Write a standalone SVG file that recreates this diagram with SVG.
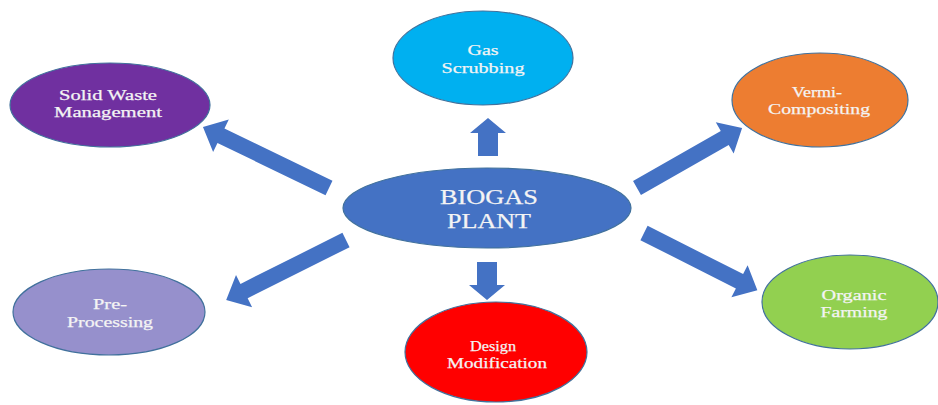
<svg xmlns="http://www.w3.org/2000/svg" width="938" height="405" viewBox="0 0 938 405">
<style>
.node ellipse{stroke:#41719C;stroke-width:1.2}
.node text{font-family:"Liberation Serif","Times New Roman",serif;font-size:15px;fill:#F4F4F4;text-anchor:middle;stroke:#F4F4F4;stroke-width:0.25}
.big text{font-size:20px}
.arrow{fill:#4472C4}
</style>
<rect width="938" height="405" fill="#FFFFFF"/>
<g id="connectors">
<polygon class="arrow" transform="translate(329,188) rotate(205.8)" points="0,-8 120,-8 120,-18 140,0 120,18 120,8 0,8"/>
<polygon class="arrow" transform="translate(637,188) rotate(-29.7)" points="0,-8 101,-8 101,-18 121,0 101,18 101,8 0,8"/>
<polygon class="arrow" transform="translate(346,240) rotate(153.4)" points="0,-8 114,-8 114,-18 134,0 114,18 114,8 0,8"/>
<polygon class="arrow" transform="translate(644,233) rotate(26.8)" points="0,-8 107,-8 107,-18 127,0 107,18 107,8 0,8"/>
<polygon class="arrow" transform="translate(488,156) rotate(-90)" points="0,-10 23,-10 23,-18 38,0 23,18 23,10 0,10"/>
<polygon class="arrow" transform="translate(487,262) rotate(90)" points="0,-10 23,-10 23,-18 38,0 23,18 23,10 0,10"/>
</g>
<g id="biogas-plant" class="node big">
<ellipse cx="487" cy="208" rx="144" ry="40" fill="#4472C4"/>
<text x="489" y="204" textLength="98" lengthAdjust="spacingAndGlyphs">BIOGAS</text>
<text x="489" y="228" textLength="84" lengthAdjust="spacingAndGlyphs">PLANT</text>
</g>
<g id="solid-waste" class="node">
<ellipse cx="110" cy="105" rx="100" ry="42" fill="#7030A0"/>
<text x="108" y="100" textLength="98" lengthAdjust="spacingAndGlyphs">Solid Waste</text>
<text x="108" y="117" textLength="108" lengthAdjust="spacingAndGlyphs">Management</text>
</g>
<g id="gas-scrubbing" class="node">
<ellipse cx="483" cy="58" rx="90" ry="47" fill="#00B0F0"/>
<text x="483" y="55" textLength="31" lengthAdjust="spacingAndGlyphs">Gas</text>
<text x="483" y="73" textLength="83" lengthAdjust="spacingAndGlyphs">Scrubbing</text>
</g>
<g id="vermi-composting" class="node">
<ellipse cx="820" cy="100" rx="88" ry="47" fill="#ED7D31"/>
<text x="817" y="97" textLength="50" lengthAdjust="spacingAndGlyphs">Vermi-</text>
<text x="819" y="114" textLength="102" lengthAdjust="spacingAndGlyphs">Compositing</text>
</g>
<g id="pre-processing" class="node">
<ellipse cx="109" cy="312" rx="96" ry="43" fill="#9690CC"/>
<text x="110" y="309" textLength="34" lengthAdjust="spacingAndGlyphs">Pre-</text>
<text x="110" y="327" textLength="86" lengthAdjust="spacingAndGlyphs">Processing</text>
</g>
<g id="design-modification" class="node">
<ellipse cx="496" cy="352" rx="91" ry="50" fill="#FF0000"/>
<text x="493" y="351" textLength="46" lengthAdjust="spacingAndGlyphs">Design</text>
<text x="497" y="368" textLength="100" lengthAdjust="spacingAndGlyphs">Modification</text>
</g>
<g id="organic-farming" class="node">
<ellipse cx="850" cy="302" rx="88" ry="47" fill="#92D050"/>
<text x="854" y="300" textLength="65" lengthAdjust="spacingAndGlyphs">Organic</text>
<text x="854" y="317" textLength="67" lengthAdjust="spacingAndGlyphs">Farming</text>
</g>
</svg>
